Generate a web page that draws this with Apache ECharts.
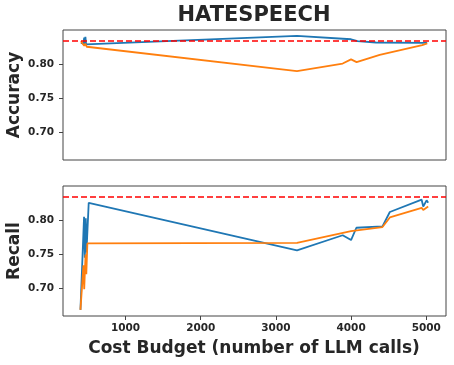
<!DOCTYPE html>
<html>
<head>
<meta charset="utf-8">
<script src="https://cdn.jsdelivr.net/npm/echarts@6/dist/echarts.min.js"></script>
<style>
  html, body { margin: 0; padding: 0; background: #fff; }
  #chart { width: 454px; height: 365px; }
</style>
</head>
<body>
<div id="chart"></div>
<script>
// accuracy, blue series
const accBlue = [
  [405, 0.831], [440, 0.830], [450, 0.839], [458, 0.829], [466, 0.840], [475, 0.829],
  [484, 0.828], [3280, 0.8414], [3999, 0.8365], [4085, 0.8336], [4330, 0.8317],
  [4946, 0.8313], [5012, 0.8315]
]
// accuracy, orange series
const accOrange = [
  [405, 0.8336], [430, 0.832], [450, 0.827], [465, 0.830], [484, 0.8255],
  [3280, 0.790], [3888, 0.801], [3999, 0.807], [4073, 0.803], [4380, 0.8135],
  [4946, 0.828], [5012, 0.8305]
]
// recall, blue series
const recBlue = [
  [400, 0.669], [448, 0.805], [458, 0.745], [471, 0.803], [480, 0.753], [510, 0.8255],
  [3280, 0.756], [3888, 0.778], [3999, 0.771], [4070, 0.789], [4417, 0.791],
  [4515, 0.812], [4938, 0.830], [4959, 0.820], [5004, 0.829], [5025, 0.8255]
]
// recall, orange series
const recOrange = [
  [400, 0.669], [440, 0.734], [450, 0.699], [468, 0.750], [478, 0.721], [492, 0.766],
  [510, 0.768], [3280, 0.767], [3999, 0.784], [4417, 0.790], [4515, 0.804],
  [4938, 0.818], [4959, 0.815], [5025, 0.820]
]
const refLine = 0.834
const xMin = 168
const xMax = 5262
const xTicks = [1000, 2000, 3000, 4000, 5000]
const yTicks = [0.70, 0.75, 0.80]

const textColor = '#262626'
const frameColor = '#444'
const font = 'DejaVu Sans'

function xAxis(idx, showLabels) {
  return {
    type: 'value', gridIndex: idx, min: xMin, max: xMax,
    axisLine: {show: false},
    splitLine: {show: false},
    axisTick: {show: showLabels, customValues: xTicks, length: 4, lineStyle: {color: frameColor}},
    axisLabel: {
      show: showLabels, customValues: xTicks, margin: 7,
      formatter: v => String(v),
      color: textColor, fontFamily: font, fontWeight: 'bold', fontSize: 10.5
    }
  }
}

function yAxis(idx) {
  return {
    type: 'value', gridIndex: idx, min: 0.66, max: 0.85,
    axisLine: {show: false},
    splitLine: {show: false},
    axisTick: {show: true, customValues: yTicks, length: 4, lineStyle: {color: frameColor}},
    axisLabel: {
      customValues: yTicks, margin: 9,
      formatter: v => v.toFixed(2),
      color: textColor, fontFamily: font, fontWeight: 'bold', fontSize: 10.5
    }
  }
}

function line(name, idx, data, color) {
  return {
    name: name, type: 'line', xAxisIndex: idx, yAxisIndex: idx,
    data: data, showSymbol: false, symbol: 'none',
    lineStyle: {color: color, width: 1.8},
    itemStyle: {color: color}
  }
}

// horizontal red dashed reference (axhline)
function refSeries(idx) {
  return {
    name: 'ref', type: 'line', xAxisIndex: idx, yAxisIndex: idx, z: 5,
    data: [[xMin, refLine], [xMax, refLine]], symbol: 'none', silent: true,
    lineStyle: {color: '#ff0000', type: [6, 3], width: 1.5}
  }
}

const chart = echarts.init(document.getElementById('chart'))
chart.setOption({
  animation: false,
  backgroundColor: '#fff',
  grid: [
    {left: 63, top: 30, width: 383, height: 130, show: true, borderColor: frameColor, borderWidth: 1},
    {left: 63, top: 186, width: 383, height: 130, show: true, borderColor: frameColor, borderWidth: 1}
  ],
  xAxis: [xAxis(0, false), xAxis(1, true)],
  yAxis: [yAxis(0), yAxis(1)],
  series: [
    line('blue', 0, accBlue, '#1f77b4'),
    line('orange', 0, accOrange, '#ff7f0e'),
    refSeries(0),
    line('blue', 1, recBlue, '#1f77b4'),
    line('orange', 1, recOrange, '#ff7f0e'),
    refSeries(1)
  ],
  graphic: [
    {type: 'text', x: 254, y: 16, style: {text: 'HATESPEECH', fill: textColor, font: 'bold 21px "DejaVu Sans"', textAlign: 'center', textVerticalAlign: 'middle'}},
    {type: 'text', x: 15, y: 95, rotation: Math.PI / 2, style: {text: 'Accuracy', fill: textColor, font: 'bold 17px "DejaVu Sans"', textAlign: 'center', textVerticalAlign: 'middle'}},
    {type: 'text', x: 15, y: 251, rotation: Math.PI / 2, style: {text: 'Recall', fill: textColor, font: 'bold 17px "DejaVu Sans"', textAlign: 'center', textVerticalAlign: 'middle'}},
    {type: 'text', x: 254, y: 349, style: {text: 'Cost Budget (number of LLM calls)', fill: textColor, font: 'bold 17px "DejaVu Sans"', textAlign: 'center', textVerticalAlign: 'middle'}}
  ]
})
</script>
</body>
</html>
